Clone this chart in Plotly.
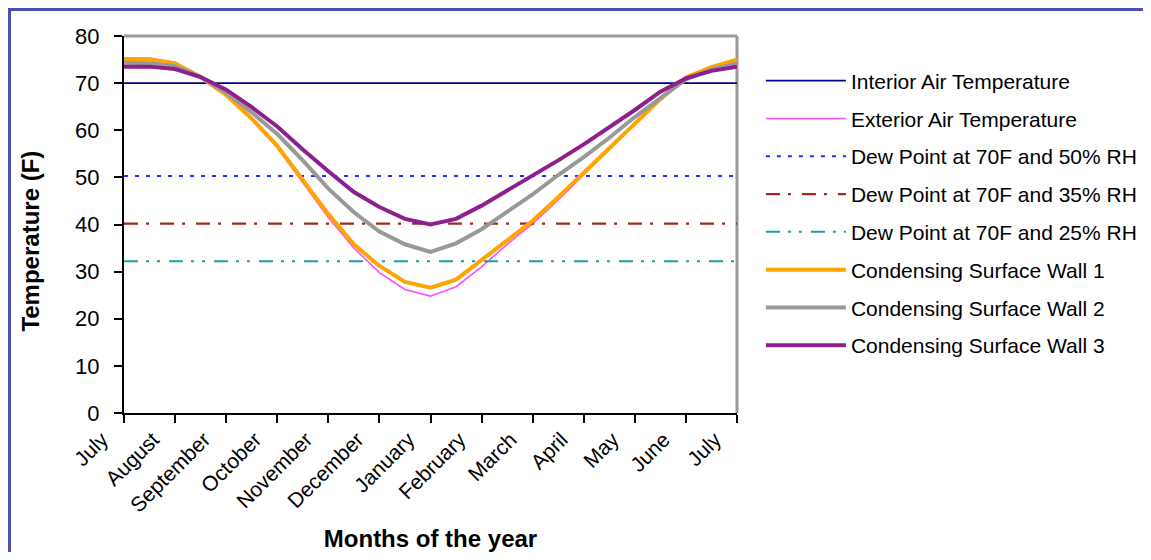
import plotly.graph_objects as go

# ---- data ----
month_labels = ["July", "August", "September", "October", "November", "December",
                "January", "February", "March", "April", "May", "June", "July"]
month_ticks = [0, 1, 2, 3, 4, 5, 6, 7, 8, 9, 10, 11, 12]
temp_ticks = [0, 10, 20, 30, 40, 50, 60, 70, 80]

# sample points (month index, half-month steps)
t = [0, 0.5, 1, 1.5, 2, 2.5, 3, 3.5, 4, 4.5, 5, 5.5, 6,
     6.5, 7, 7.5, 8, 8.5, 9, 9.5, 10, 10.5, 11, 11.5, 12]

interior_temp = 70.0
dew_50 = 50.3
dew_35 = 40.2
dew_25 = 32.2

exterior = [75.3, 75.3, 74.4, 71.4, 67.3, 62.2, 56.3, 49.0, 41.5, 35.0, 29.8, 26.2, 24.8,
            26.8, 31.0, 35.8, 40.2, 45.2, 50.6, 55.8, 61.3, 66.6, 71.2, 73.5, 75.2]
wall1 = [75.0, 75.0, 74.2, 71.3, 67.5, 62.5, 56.7, 49.6, 42.2, 35.8, 31.2, 27.8, 26.6,
         28.3, 32.5, 36.8, 40.8, 45.8, 51.0, 56.2, 61.3, 66.6, 71.2, 73.4, 75.0]
wall2 = [74.3, 74.2, 73.6, 71.3, 68.0, 63.8, 59.2, 53.6, 47.6, 42.6, 38.5, 35.8, 34.2,
         36.0, 39.0, 42.6, 46.4, 50.5, 54.3, 58.4, 62.8, 66.8, 70.8, 72.9, 74.2]
wall3 = [73.5, 73.5, 73.0, 71.3, 68.6, 64.9, 60.8, 55.9, 51.3, 46.9, 43.7, 41.2, 40.0,
         41.2, 44.0, 47.2, 50.2, 53.6, 57.0, 60.6, 64.3, 68.2, 71.0, 72.6, 73.5]

series_names = ["Interior Air Temperature", "Exterior Air Temperature",
                "Dew Point at 70F and 50% RH", "Dew Point at 70F and 35% RH",
                "Dew Point at 70F and 25% RH", "Condensing Surface Wall 1",
                "Condensing Surface Wall 2", "Condensing Surface Wall 3"]

FONT = "Liberation Sans, Arial, sans-serif"

fig = go.Figure()
span = [t[0], t[-1]]

def add(x, y, name, color, width, dash="solid"):
    fig.add_trace(go.Scatter(x=x, y=y, mode="lines", name=name,
                             legendgroup=name,
                             line=dict(color=color, width=width, dash=dash),
                             hoverinfo="skip"))

add(span, [interior_temp] * 2, series_names[0], "#00008B", 1.6)
add(t, exterior, series_names[1], "#FF4DFF", 1.6)
add(span, [dew_50] * 2, series_names[2], "#1F2FFF", 2, "4px,7px")
add(span, [dew_35] * 2, series_names[3], "#9E2A17", 2.2, "14px,8px,3px,11px")
add(span, [dew_25] * 2, series_names[4], "#1A9E9E", 2, "14px,8px,3px,8px,3px,9px")
add(t, wall1, series_names[5], "#FFA500", 4)
add(t, wall2, series_names[6], "#999999", 4)
add(t, wall3, series_names[7], "#8E1F8E", 4)

fig.update_layout(
    width=1143, height=544,
    margin=dict(l=116, r=414, t=28, b=139, autoexpand=False),
    paper_bgcolor="white", plot_bgcolor="white",
    font=dict(family=FONT, color="black"),
    showlegend=True,
    legend=dict(x=1.039, xanchor="left", y=0.935, yanchor="top",
                font=dict(size=21, family=FONT, color="black"),
                tracegroupgap=7.5, itemwidth=80, bgcolor="rgba(0,0,0,0)"),
    xaxis=dict(range=[0, 12], tickmode="array", tickvals=month_ticks, ticktext=month_labels,
               tickangle=-45, tickfont=dict(size=21), showgrid=False, zeroline=False,
               showline=True, linecolor="black", linewidth=2,
               ticks="outside", ticklen=8, tickwidth=2, tickcolor="black",
               ticklabelshift=-22, ticklabelstandoff=-4,
               title=dict(text="<b>Months of the year</b>", font=dict(size=24), standoff=15)),
    yaxis=dict(range=[0, 80], tickmode="array", tickvals=temp_ticks,
               tickfont=dict(size=22), showgrid=False, zeroline=False,
               showline=True, linecolor="black", linewidth=2,
               ticks="outside", ticklen=8, tickwidth=2, tickcolor="black",
               ticklabelstandoff=10,
               title=dict(text="<b>Temperature (F)" + "&nbsp;" * 5 + "</b>",
                          font=dict(size=24), standoff=29)),
    xaxis2=dict(range=[0, 12], overlaying="x", side="bottom", anchor="y",
                tickmode="array", tickvals=month_ticks, showticklabels=False,
                ticks="inside", ticklen=6, tickwidth=2, tickcolor="black",
                showgrid=False, zeroline=False, showline=False),
    yaxis2=dict(range=[0, 80], overlaying="y", side="left", anchor="x",
                tickmode="array", tickvals=temp_ticks,
                showticklabels=False, ticks="inside", ticklen=8, tickwidth=2,
                tickcolor="black", showgrid=False, zeroline=False, showline=False),
    shapes=[
        dict(type="line", xref="x domain", yref="y domain", x0=0, x1=1, y0=1, y1=1,
             line=dict(color="#999999", width=3), layer="below"),
        dict(type="line", xref="x domain", yref="y domain", x0=1, x1=1, y0=0, y1=1,
             line=dict(color="#999999", width=3), layer="below"),
        dict(type="rect", xref="paper", yref="paper", x0=-0.1868, x1=2.2, y0=-1.0, y1=1.0703,
             line=dict(color="#4B50B0", width=3), fillcolor="rgba(0,0,0,0)"),
    ],
)

fig.write_html("out.html")
